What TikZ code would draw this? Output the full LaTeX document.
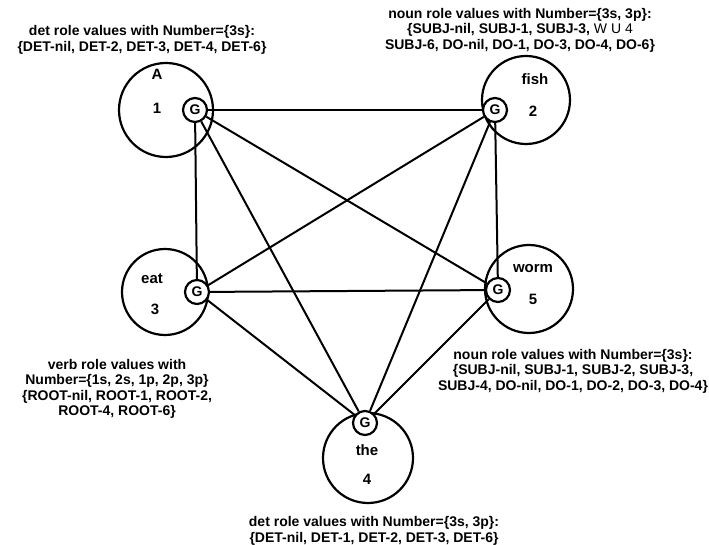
\documentclass[tikz,border=0pt]{standalone}
\usepackage{fontspec}
\setmainfont{Liberation Sans}
\usetikzlibrary{positioning}

\tikzset{
  wordcirc/.style={circle, draw, line width=2.2pt, minimum size=#1, inner sep=0pt},
  gnode/.style={circle, draw, fill=white, line width=2.2pt, minimum size=24pt, inner sep=0pt,
    font=\fontsize{14}{14}\selectfont\bfseries},
  wordtxt/.style={font=\fontsize{15}{15}\selectfont\bfseries},
  rolelbl/.style={align=center, font=\fontsize{14}{15.5}\selectfont\bfseries},
  link/.style={line width=2pt}
}

\begin{document}
\begin{tikzpicture}[x=1pt, y=-1pt]
  \useasboundingbox (0,0) rectangle (709,545);

  % Word circles
  \node[wordcirc=94pt] (w1) at (166,110) {};
  \node[wordcirc=88pt] (w2) at (526,100) {};
  \node[wordcirc=86pt] (w3) at (165,292) {};
  \node[wordcirc=90pt] (w4) at (368,458) {};
  \node[wordcirc=88pt] (w5) at (529,289) {};

  % Words and positions
  \node[wordtxt] (t1) at (157,74) {A};
  \node[wordtxt] (n1) at (157,108) {1};
  \node[wordtxt] (t2) at (535,79) {fish};
  \node[wordtxt] (n2) at (533,111) {2};
  \node[wordtxt] (t3) at (152,279) {eat};
  \node[wordtxt] (n3) at (155,309) {3};
  \node[wordtxt] (t4) at (367,450) {the};
  \node[wordtxt] (n4) at (367,479) {4};
  \node[wordtxt] (t5) at (533,269) {worm};
  \node[wordtxt] (n5) at (533,299) {5};

  % G nodes
  \node[gnode] (g1) at (195,110) {G};
  \node[gnode] (g2) at (495,110) {G};
  \node[gnode] (g3) at (197,292) {G};
  \node[gnode] (g4) at (365,423) {G};
  \node[gnode] (g5) at (498,290) {G};

  % Complete graph between the G nodes
  \foreach \a/\b in {1/2, 1/3, 1/4, 1/5, 2/3, 2/4, 2/5, 3/4, 3/5, 4/5}
    \draw[link] (g\a) -- (g\b);

  % Role value labels
  \node[rolelbl] (r1) at (142,40)
    {det role values with Number=\{3s\}:\\
     \{DET-nil, DET-2, DET-3, DET-4, DET-6\}};
  \node[rolelbl] (r2) at (520,30)
    {noun role values with Number=\{3s, 3p\}:\\
     \{SUBJ-nil, SUBJ-1, SUBJ-3, {\mdseries W U 4}\\
     SUBJ-6, DO-nil, DO-1, DO-3, DO-4, DO-6\}};
  \node[rolelbl] (r3) at (117,389)
    {verb role values with\\
     Number=\{1s, 2s, 1p, 2p, 3p\}\\
     \{ROOT-nil, ROOT-1, ROOT-2,\\
     ROOT-4, ROOT-6\}};
  \node[rolelbl] (r5) at (573,371)
    {noun role values with Number=\{3s\}:\\
     \{SUBJ-nil, SUBJ-1, SUBJ-2, SUBJ-3,\\
     SUBJ-4, DO-nil, DO-1, DO-2, DO-3, DO-4\}};
  \node[rolelbl] (r4) at (374,531)
    {det role values with Number=\{3s, 3p\}:\\
     \{DET-nil, DET-1, DET-2, DET-3, DET-6\}};
\end{tikzpicture}
\end{document}
